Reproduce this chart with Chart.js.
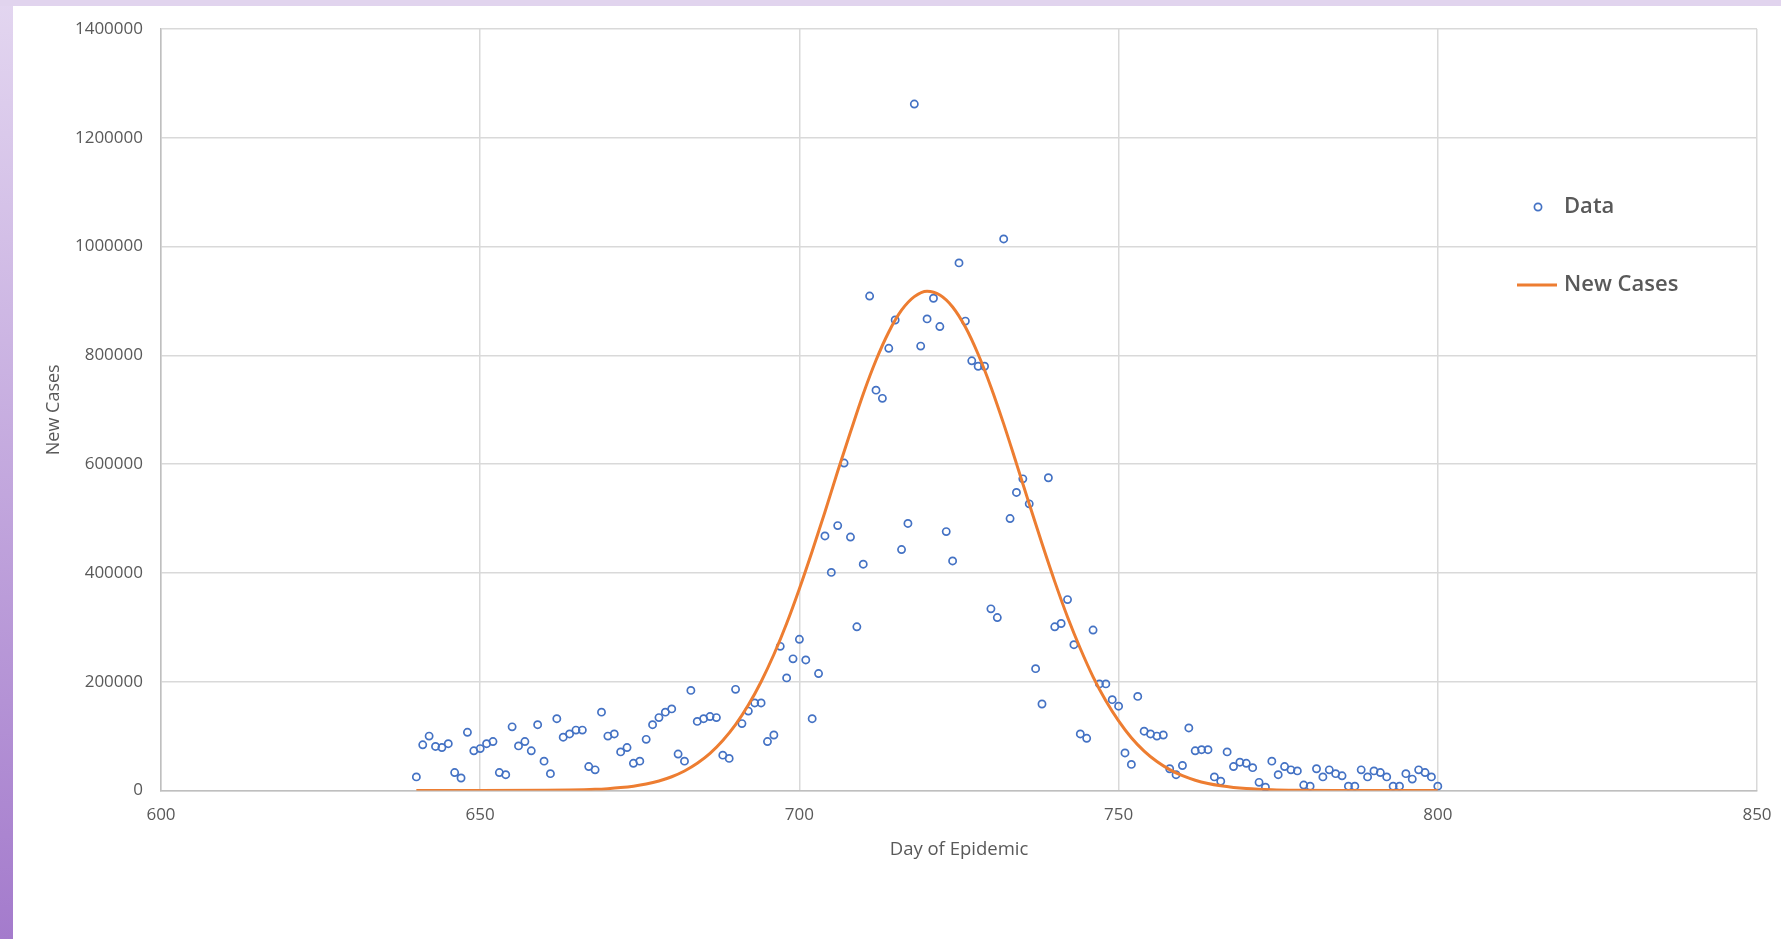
<!DOCTYPE html>
<html>
<head>
<meta charset="utf-8">
<title>New Cases</title>
<script src="https://cdn.jsdelivr.net/npm/chart.js@4"></script>
<style>
	html, body { margin: 0; padding: 0; }
	body { width: 1781px; height: 939px; overflow: hidden; position: relative;
		background: linear-gradient(to bottom, #e3d6f0, #a47bcc); }
	#topband { position: absolute; left: 0; top: 0; right: 0; height: 6px; background: #e1d4ee; }
	#sheet { position: absolute; left: 13px; top: 6px; right: 0; bottom: 0; background: #fff; }
	#wrap { position: absolute; left: 0; top: 0; width: 1781px; height: 939px; }
</style>
</head>
<body>
<div id="topband"></div>
<div id="sheet"></div>
<div id="wrap"><canvas id="chart"></canvas></div>
<script>
// daily observations
const days = [
	640, 641, 642, 643, 644, 645, 646, 647, 648, 649, 650, 651, 652, 653, 654, 655, 656, 657, 658, 659,
	660, 661, 662, 663, 664, 665, 666, 667, 668, 669, 670, 671, 672, 673, 674, 675, 676, 677, 678, 679,
	680, 681, 682, 683, 684, 685, 686, 687, 688, 689, 690, 691, 692, 693, 694, 695, 696, 697, 698, 699,
	700, 701, 702, 703, 704, 705, 706, 707, 708, 709, 710, 711, 712, 713, 714, 715, 716, 717, 718, 719,
	720, 721, 722, 723, 724, 725, 726, 727, 728, 729, 730, 731, 732, 733, 734, 735, 736, 737, 738, 739,
	740, 741, 742, 743, 744, 745, 746, 747, 748, 749, 750, 751, 752, 753, 754, 755, 756, 757, 758, 759,
	760, 761, 762, 763, 764, 765, 766, 767, 768, 769, 770, 771, 772, 773, 774, 775, 776, 777, 778, 779,
	780, 781, 782, 783, 784, 785, 786, 787, 788, 789, 790, 791, 792, 793, 794, 795, 796, 797, 798, 799,
	800,
];
const cases = [
	25000, 84000, 100000, 81000, 79000, 86000, 33000, 23000, 107000, 73000,
	77000, 86000, 90000, 33000, 29000, 117000, 82000, 90000, 73000, 121000,
	54000, 31000, 132000, 98000, 104000, 111000, 111000, 44000, 38000, 144000,
	100000, 104000, 71000, 79000, 50000, 54000, 94000, 121000, 134000, 144000,
	150000, 67000, 54000, 184000, 127000, 132000, 136000, 134000, 65000, 59000,
	186000, 123000, 146000, 161000, 161000, 90000, 102000, 265000, 207000, 242000,
	278000, 240000, 132000, 215000, 468000, 401000, 487000, 602000, 466000, 301000,
	416000, 909000, 736000, 721000, 813000, 865000, 443000, 491000, 1262000, 817000,
	867000, 905000, 853000, 476000, 422000, 970000, 863000, 790000, 780000, 780000,
	334000, 318000, 1014000, 500000, 548000, 573000, 527000, 224000, 159000, 575000,
	301000, 307000, 351000, 268000, 104000, 96000, 295000, 196000, 196000, 167000,
	155000, 69000, 48000, 173000, 109000, 104000, 100000, 102000, 40000, 29000,
	46000, 115000, 73000, 75000, 75000, 25000, 17000, 71000, 44000, 52000,
	50000, 42000, 15000, 6000, 54000, 29000, 44000, 38000, 36000, 10000,
	8000, 40000, 25000, 38000, 31000, 27000, 8000, 8000, 38000, 25000,
	36000, 33000, 25000, 8000, 8000, 31000, 21000, 38000, 33000, 25000,
	8000,
];

// fitted curve, every 2 days
const fitDays = [
	640, 650, 660, 664, 668, 670, 672, 674, 676, 678, 680, 682, 684, 686, 688, 690, 692, 694, 696, 698,
	700, 702, 704, 706, 708, 710, 712, 714, 716, 718, 720, 722, 724, 726, 728, 730, 732, 734, 736, 738,
	740, 742, 744, 746, 748, 750, 752, 754, 756, 758, 760, 762, 764, 766, 768, 770, 774, 778, 784, 800,
];
const fitCases = [
	0, 0, 300, 800, 2100, 3400, 5300, 8000, 11900, 17500, 25300, 35900, 50000, 68200, 91900, 121000,
	157000, 200000, 250000, 307000, 371000, 440000, 512000, 587000, 659000, 729000, 791000, 843000,
	883000, 908000, 918000, 911000, 889000, 852000, 802000, 742000, 674000, 601000, 527000, 454000,
	384000, 319000, 261000, 209000, 165000, 128000, 97000, 72400, 53200, 38400, 27200, 18900, 12900,
	8700, 5700, 3700, 1500, 550, 0, 0,
];

const xTicks = [600, 650, 700, 750, 800, 850];
const yMax = 1400000;
const yStep = 200000;

const grey = "#595959";
const fontName = "'Open Sans', 'Liberation Sans', sans-serif";

let sideLegend = {
	id: "sideLegend",
	afterDraw: function (chart) {
		const ctx = chart.ctx;
		const dots = chart.data.datasets[1];
		const line = chart.data.datasets[0];
		ctx.save();
		ctx.font = "600 22px " + fontName;
		ctx.fillStyle = grey;
		ctx.textBaseline = "middle";
		ctx.textAlign = "left";
		// Data
		ctx.beginPath();
		ctx.arc(1538, 207, 3.6, 0, Math.PI * 2);
		ctx.lineWidth = dots.borderWidth;
		ctx.strokeStyle = dots.borderColor;
		ctx.stroke();
		ctx.fillText(dots.label, 1564, 207);
		// New Cases
		ctx.beginPath();
		ctx.moveTo(1517, 285);
		ctx.lineTo(1557, 285);
		ctx.lineWidth = line.borderWidth;
		ctx.strokeStyle = line.borderColor;
		ctx.stroke();
		ctx.fillText(line.label, 1564, 285);
		ctx.restore();
	},
};

let chart = new Chart(document.getElementById("chart"), {
	type: "scatter",
	data: {
		datasets: [
			{
				label: "New Cases",
				data: fitDays.map((d, i) => ({ x: d, y: fitCases[i] })),
				showLine: true,
				borderColor: "#ed7d31",
				borderWidth: 3,
				pointRadius: 0,
				cubicInterpolationMode: "monotone",
				order: 0,
			},
			{
				label: "Data",
				data: days.map((d, i) => ({ x: d, y: cases[i] })),
				showLine: false,
				pointRadius: 3.6,
				pointBorderWidth: 1.7,
				borderWidth: 1.7,
				borderColor: "#4472c4",
				backgroundColor: "rgba(255,255,255,0)",
				order: 1,
			},
		],
	},
	options: {
		responsive: true,
		maintainAspectRatio: false,
		animation: false,
		layout: { padding: { top: 29, right: 24, left: 0, bottom: 0 } },
		plugins: {
			legend: { display: false },
			tooltip: { enabled: false },
		},
		scales: {
			x: {
				type: "linear",
				min: xTicks[0],
				max: xTicks[xTicks.length - 1],
				afterBuildTicks: (scale) => {
					scale.ticks = xTicks.map((v) => ({ value: v }));
				},
				afterFit: (scale) => {
					scale.height = 148.5;
					scale.paddingLeft = 0;
					scale.paddingRight = 0;
				},
				ticks: {
					color: grey,
					font: { family: fontName, size: 17 },
					padding: 14,
					maxRotation: 0,
				},
				grid: { color: "#d9d9d9", lineWidth: 1.5, drawTicks: false },
				border: { color: "#bfbfbf", width: 1.5 },
				title: {
					display: true,
					text: "Day of Epidemic",
					color: grey,
					font: { family: fontName, size: 18.5 },
					padding: { bottom: 78 },
				},
			},
			y: {
				min: 0,
				max: yMax,
				afterFit: (scale) => {
					scale.width = 161;
				},
				ticks: {
					stepSize: yStep,
					color: grey,
					font: { family: fontName, size: 17 },
					padding: 18,
					callback: (v) => String(v),
				},
				grid: { color: "#d9d9d9", lineWidth: 1.5, drawTicks: false },
				border: { color: "#bfbfbf", width: 1.5 },
				title: {
					display: true,
					text: "New Cases",
					color: grey,
					font: { family: fontName, size: 18 },
					padding: { top: 43 },
				},
			},
		},
	},
	plugins: [sideLegend],
});
</script>
</body>
</html>
